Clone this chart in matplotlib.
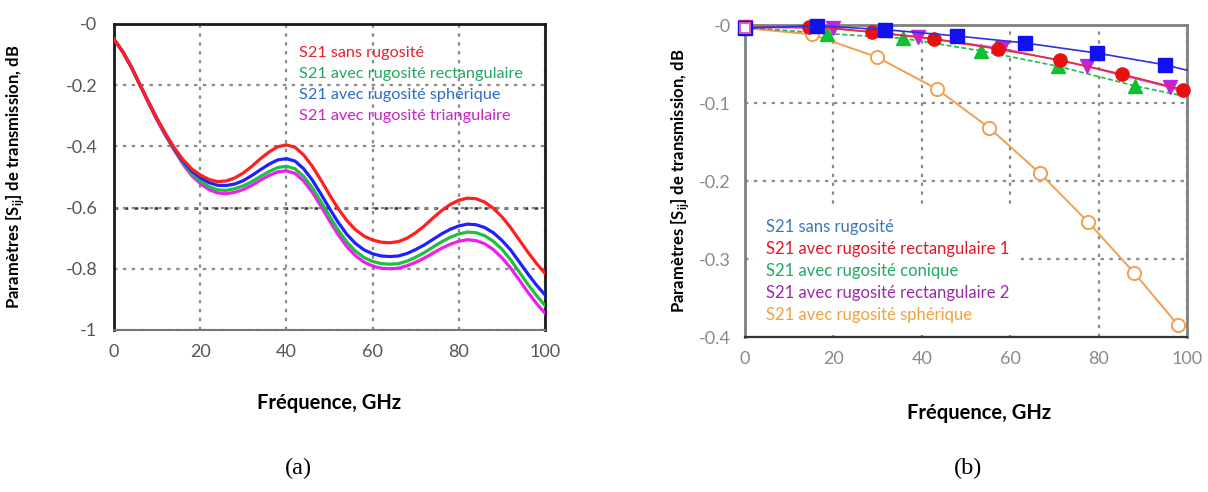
import matplotlib
matplotlib.use("Agg")
import matplotlib.pyplot as plt
from matplotlib.lines import Line2D

plt.rcParams['font.family'] = ['Lato', 'DejaVu Sans']
plt.rcParams['mathtext.fontset'] = 'custom'
plt.rcParams['mathtext.rm'] = 'Lato'
plt.rcParams['mathtext.bf'] = 'Lato:bold'

# ---------------- Panel (a) data ----------------
freq_a = [0, 2, 4, 6, 8, 10, 12, 14, 16, 18, 20, 22, 24, 26, 28, 30, 32, 34, 36, 38, 40,
          42, 44, 46, 48, 50, 52, 54, 56, 58, 60, 62, 64, 66, 68, 70, 72, 74, 76, 78, 80,
          82, 84, 86, 88, 90, 92, 94, 96, 98, 100]
s21_sans = [-0.05, -0.09, -0.14, -0.198, -0.255, -0.31, -0.36, -0.405, -0.443, -0.473, -0.493,
            -0.508, -0.515, -0.513, -0.503, -0.487, -0.465, -0.44, -0.418, -0.401, -0.395,
            -0.403, -0.428, -0.465, -0.51, -0.558, -0.603, -0.642, -0.672, -0.693, -0.706,
            -0.713, -0.715, -0.711, -0.70, -0.682, -0.66, -0.634, -0.61, -0.59, -0.576,
            -0.569, -0.571, -0.582, -0.602, -0.63, -0.665, -0.705, -0.745, -0.782, -0.815]
s21_sphe = [-0.05, -0.09, -0.14, -0.198, -0.255, -0.31, -0.361, -0.408, -0.448, -0.48, -0.502,
            -0.518, -0.527, -0.528, -0.523, -0.512, -0.495, -0.476, -0.458, -0.444, -0.44,
            -0.448, -0.473, -0.51, -0.555, -0.603, -0.648, -0.687, -0.717, -0.738, -0.751,
            -0.758, -0.76, -0.758, -0.75, -0.737, -0.722, -0.704, -0.686, -0.671, -0.66,
            -0.654, -0.656, -0.665, -0.682, -0.707, -0.738, -0.777, -0.816, -0.853, -0.885]
s21_rect = [-0.05, -0.09, -0.14, -0.198, -0.255, -0.311, -0.363, -0.41, -0.453, -0.488, -0.513,
            -0.531, -0.542, -0.544, -0.538, -0.529, -0.515, -0.498, -0.482, -0.469, -0.465,
            -0.473, -0.498, -0.535, -0.58, -0.628, -0.673, -0.712, -0.742, -0.763, -0.776,
            -0.783, -0.785, -0.783, -0.775, -0.762, -0.747, -0.729, -0.712, -0.697, -0.686,
            -0.68, -0.682, -0.692, -0.71, -0.736, -0.77, -0.81, -0.85, -0.887, -0.92]
s21_tri = [-0.05, -0.09, -0.14, -0.199, -0.258, -0.315, -0.366, -0.413, -0.458, -0.495, -0.521,
           -0.541, -0.552, -0.555, -0.55, -0.541, -0.527, -0.51, -0.495, -0.483, -0.48,
           -0.488, -0.513, -0.55, -0.595, -0.643, -0.688, -0.727, -0.757, -0.778, -0.791,
           -0.798, -0.80, -0.798, -0.79, -0.779, -0.765, -0.749, -0.733, -0.72, -0.71,
           -0.705, -0.708, -0.718, -0.737, -0.764, -0.797, -0.836, -0.876, -0.913, -0.945]
labels_a = ["S21 sans rugosité", "S21 avec rugosité rectangulaire",
            "S21 avec rugosité sphérique", "S21 avec rugosité triangulaire"]
yticks_a = [-1, -0.8, -0.6, -0.4, -0.2, 0]
yticklabels_a = ["-1", "-0.8", "-0.6", "-0.4", "-0.2", "-0"]
xticks = [0, 20, 40, 60, 80, 100]

# ---------------- Panel (b) data ----------------
x_sans = [0, 16.2, 31.7, 47.9, 63.3, 79.6, 95.0, 100]
y_sans = [-0.004, -0.001, -0.006, -0.014, -0.023, -0.036, -0.051, -0.058]
x_rect1 = [0, 14.4, 28.7, 42.8, 57.3, 71.3, 85.2, 99.2]
y_rect1 = [-0.003, -0.002, -0.009, -0.018, -0.031, -0.045, -0.063, -0.083]
x_coni = [0, 18.5, 35.7, 53.3, 70.9, 88.2, 100]
y_coni = [-0.003, -0.011, -0.017, -0.033, -0.053, -0.078, -0.092]
x_rect2 = [0, 20.0, 39.1, 58.1, 77.3, 96.2, 100]
y_rect2 = [-0.003, -0.004, -0.015, -0.030, -0.053, -0.080, -0.087]
x_sphe = [0, 15.1, 29.8, 43.4, 55.3, 66.7, 77.7, 88.1, 98.0]
y_sphe = [-0.004, -0.012, -0.041, -0.082, -0.132, -0.190, -0.253, -0.318, -0.385]
labels_b = ["S21 sans rugosité", "S21 avec rugosité rectangulaire 1", "S21 avec rugosité conique",
            "S21 avec rugosité rectangulaire 2", "S21 avec rugosité sphérique"]
yticks_b = [-0.4, -0.3, -0.2, -0.1, 0]
yticklabels_b = ["-0.4", "-0.3", "-0.2", "-0.1", "-0"]

W, H = 1208, 492
fig = plt.figure(figsize=(W / 100, H / 100), dpi=100)

def px_axes(x0, x1, ytop, ybot):
    return fig.add_axes([x0 / W, 1 - ybot / H, (x1 - x0) / W, (ybot - ytop) / H])

ylabel_txt = "Paramètres [S$_{\\mathbf{ij}}$] de transmission, dB"

# ---------------- Panel (a) ----------------
ax = px_axes(114, 545, 24, 330)
colors_a = ['#ff1f1f', '#1fbf3f', '#1f1fff', '#ee1fee']
ax.plot(freq_a, s21_tri, color=colors_a[3], lw=2.3, zorder=3)
ax.plot(freq_a, s21_rect, color=colors_a[1], lw=2.3, zorder=4)
ax.plot(freq_a, s21_sphe, color=colors_a[2], lw=2.3, zorder=5)
ax.plot(freq_a, s21_sans, color=colors_a[0], lw=2.3, zorder=6)
ax.set_xlim(0, 100)
ax.set_ylim(-1, 0)
ax.set_xticks(xticks)
ax.set_yticks(yticks_a)
ax.set_yticklabels(yticklabels_a)
ax.grid(True, color='#8a8a8a', linestyle=(0, (1.5, 2.5)), linewidth=1.6)
ax.axhline(-0.6, color='#333333', linestyle=(0, (1.5, 2.5)), linewidth=1.8, zorder=1)
ax.tick_params(axis='both', length=0, labelsize=13, labelcolor='#555555')
ax.tick_params(axis='y', pad=12)
ax.tick_params(axis='x', pad=10)
for s in ['top', 'left', 'right']:
    ax.spines[s].set_color('#1a1a1a')
    ax.spines[s].set_linewidth(2.0)
ax.spines['bottom'].set_color('#777777')
ax.spines['bottom'].set_linewidth(1.5)
text_colors_a = ['#e8202a', '#20a860', '#2a6cc8', '#c822c8']
for i, (lab, c) in enumerate(zip(labels_a, text_colors_a)):
    ax.text(43, -0.095 - i * 0.0685, lab, color=c, fontsize=11.7, va='center', ha='left', zorder=7)
ax.set_ylabel(ylabel_txt, fontsize=12, fontweight='bold')
ax.yaxis.set_label_coords(-0.204, 0.5)
ax.set_xlabel("Fréquence, GHz", fontsize=14.5, fontweight='bold')
ax.xaxis.set_label_coords(0.5, -0.205)

# ---------------- Panel (b) ----------------
bx = px_axes(745, 1187, 25, 337)
bx.plot(x_sphe, y_sphe, color='#f0a050', lw=1.4, marker='o', ms=9.5, mfc='white', mec='#f0a050', mew=1.4,
        zorder=3, clip_on=False)
bx.plot(x_coni, y_coni, color='#22bb44', lw=1.2, ls=(0, (3, 1.5)), marker='^', ms=9.5, mfc='#10c030',
        mec='#10c030', markevery=list(range(len(x_coni) - 1)), zorder=4, clip_on=False)
bx.plot(x_rect2, y_rect2, color='#d040e0', lw=1.2, marker='v', ms=9.5, mfc='#c020e8', mec='#c020e8',
        markevery=list(range(len(x_rect2) - 1)), zorder=5, clip_on=False)
bx.plot(x_rect1, y_rect1, color='#e03030', lw=1.2, marker='o', ms=9.5, mfc='#e81010', mec='#e81010',
        zorder=6, clip_on=False)
bx.plot(x_sans, y_sans, color='#3030e0', lw=1.2, marker='s', ms=9.5, mfc='#1010f0', mec='#1010f0',
        markevery=list(range(len(x_sans) - 1)), zorder=7, clip_on=False)
bx.plot(x_sphe[:1], y_sphe[:1], ls='none', marker='s', ms=7, mfc='white', mec='#e060a0', mew=1.4,
        zorder=8, clip_on=False)
bx.set_xlim(0, 100)
bx.set_ylim(-0.4, 0)
bx.set_xticks(xticks)
bx.set_yticks(yticks_b)
bx.set_yticklabels(yticklabels_b)
bx.grid(True, color='#8a8a8a', linestyle=(0, (1.5, 2.5)), linewidth=1.6)
bx.tick_params(axis='both', length=0, labelsize=13, labelcolor='#8a8a8a')
bx.tick_params(axis='y', pad=10)
bx.tick_params(axis='x', pad=10)
for s in ['top', 'left', 'right']:
    bx.spines[s].set_color('#808080')
    bx.spines[s].set_linewidth(2.0)
bx.spines['bottom'].set_color('#333333')
bx.spines['bottom'].set_linewidth(1.6)
text_colors_b = ['#3a78b8', '#e01828', '#20a868', '#9a2aa8', '#f0a040']
handles = [Line2D([], [], linestyle='none') for _ in labels_b]
leg = bx.legend(handles, labels_b, loc='lower left', bbox_to_anchor=(0.02, 0.008), fontsize=12,
                handlelength=0, handletextpad=0, borderpad=0.7, labelspacing=0.36, borderaxespad=0,
                frameon=True, fancybox=False, framealpha=1.0, edgecolor='none', facecolor='white')
for t, c in zip(leg.get_texts(), text_colors_b):
    t.set_color(c)
leg.set_zorder(2.4)
bx.set_ylabel(ylabel_txt, fontsize=12, fontweight='bold')
bx.yaxis.set_label_coords(-0.122, 0.5)
bx.set_xlabel("Fréquence, GHz", fontsize=14.5, fontweight='bold')
bx.xaxis.set_label_coords(0.53, -0.21)

fig.text(298 / W, 1 - 468 / H, "(a)", family=['Liberation Serif'], fontsize=17.5, ha='center', va='center')
fig.text(968 / W, 1 - 468 / H, "(b)", family=['Liberation Serif'], fontsize=17.5, ha='center', va='center')

fig.savefig("out.png", dpi=100)
